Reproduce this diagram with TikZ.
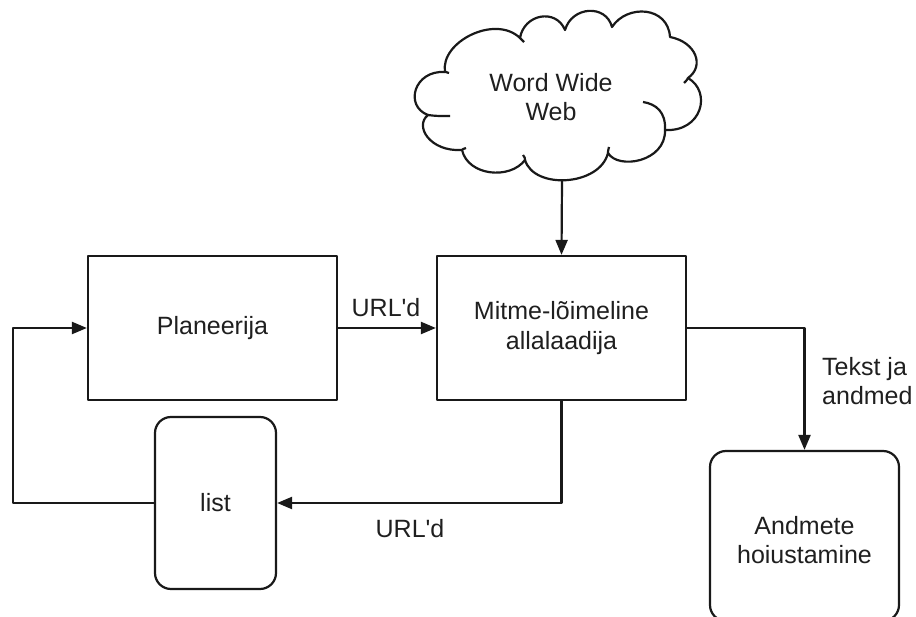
\documentclass[tikz,border=0pt]{standalone}
\usepackage{fontspec}
\setmainfont{Liberation Sans}
\usetikzlibrary{arrows.meta}

\tikzset{
  box/.style={draw, line width=2.2pt, rectangle, inner sep=0pt, align=center},
  roundbox/.style={box, rounded corners=16pt},
  flow/.style={draw, line width=2.2pt, -{Triangle[length=15pt,width=12pt]}},
  lbl/.style={inner sep=0pt, align=left},
  every node/.style={font=\fontsize{25}{29.5}\selectfont, text=black!88},
}

\begin{document}
\begin{tikzpicture}[x=1pt, y=-1pt, line join=round, color=black!90]
\useasboundingbox (0,0) rectangle (916,617);

% cloud outline
\draw[line width=2.2pt]
  (445,72) .. controls (440,42) and (495,14) .. (520,38)
  .. controls (524,14) and (556,8) .. (565,30)
  .. controls (572,6) and (606,4) .. (612,27)
  .. controls (627,4) and (668,6) .. (670,37)
  .. controls (696,42) and (705,66) .. (688,78)
  .. controls (712,92) and (702,132) .. (665,130)
  .. controls (666,162) and (618,170) .. (608,153)
  .. controls (600,186) and (534,190) .. (525,160)
  .. controls (510,180) and (468,176) .. (462,150)
  .. controls (430,152) and (414,126) .. (428,115)
  .. controls (404,106) and (414,70) .. (445,72);
% inner tails of the puffs
\draw[line width=2.2pt]
  (428,115) .. controls (436,116) .. (450,116)
  (665,130) .. controls (666,112) and (656,104) .. (643,102)
  (462,150) .. controls (463,149) .. (466,148)
  (520,38) .. controls (521,39) .. (524,42)
  (688,78) .. controls (687,80) .. (684,83)
  (445,72) .. controls (446,72) .. (449,73)
  (525,160) .. controls (525,158) .. (523,155)
  (608,153) .. controls (608,151) .. (609,147);
\node[align=center] (web) at (551,97) {Word Wide\\Web};
\coordinate (webout) at (562,181);

% blocks
\node[box, minimum width=249pt, minimum height=144pt] (plan) at (212.5,328) {Planeerija};
\node[box, minimum width=249pt, minimum height=144pt] (dl) at (561.5,328) {Mitme-lõimeline\\allalaadija};
\node[roundbox, minimum width=121pt, minimum height=172pt] (list) at (215.5,503) {list};
\node[roundbox, minimum width=189pt, minimum height=170pt] (store) at (804.5,536) {};
\node[align=center] (storetxt) at (804.5,540) {Andmete\\hoiustamine};

% connectors
\draw[flow] (webout) -- (dl.north);
\draw[flow] (plan.east) -- (dl.west);
\draw[flow] (dl.east) -| (store.north);
\draw[flow] (dl.south) |- (list.east);
\draw[flow] (list.west) -- ++(-141,0) |- (plan.west);

% labels
\node[lbl] (l1) at (386,308) {URL\textquotesingle d};
\node[lbl] (l2) at (410,529) {URL\textquotesingle d};
\node[lbl, anchor=west] (l3) at (822,381) {Tekst ja\\andmed};
\end{tikzpicture}
\end{document}
